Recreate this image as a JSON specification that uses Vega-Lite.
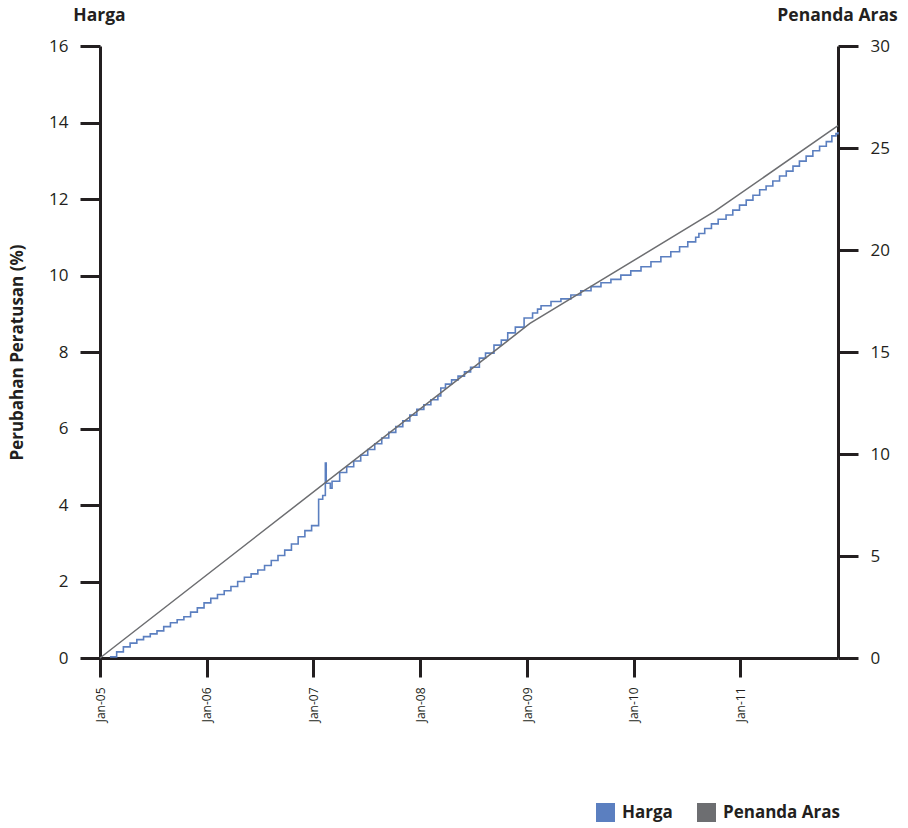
{
  "$schema": "https://vega.github.io/schema/vega-lite/v6.json",
  "width": 738,
  "height": 612,
  "autosize": {"type": "none"},
  "padding": {"left": 100, "top": 46, "right": 70, "bottom": 170},
  "background": "white",
  "config": {
    "view": {"stroke": null},
    "font": "Open Sans",
    "axis": {
      "domainColor": "#231f20",
      "domainWidth": 3,
      "tickColor": "#231f20",
      "tickWidth": 3,
      "tickSize": 20,
      "labelFont": "Open Sans",
      "labelFontSize": 17,
      "labelColor": "#231f20",
      "labelPadding": 12,
      "grid": false,
      "titleFont": "Open Sans",
      "titleFontWeight": "bold",
      "titleFontSize": 17.5,
      "titleColor": "#231f20"
    }
  },
  "datasets": {
    "harga": [
      {"date": "2005-02-04", "value": 0.03, "series": "Harga"},
      {"date": "2005-02-27", "value": 0.16, "series": "Harga"},
      {"date": "2005-03-22", "value": 0.29, "series": "Harga"},
      {"date": "2005-04-14", "value": 0.39, "series": "Harga"},
      {"date": "2005-05-07", "value": 0.48, "series": "Harga"},
      {"date": "2005-05-30", "value": 0.56, "series": "Harga"},
      {"date": "2005-06-22", "value": 0.63, "series": "Harga"},
      {"date": "2005-07-15", "value": 0.71, "series": "Harga"},
      {"date": "2005-08-07", "value": 0.82, "series": "Harga"},
      {"date": "2005-08-30", "value": 0.92, "series": "Harga"},
      {"date": "2005-09-22", "value": 1.0, "series": "Harga"},
      {"date": "2005-10-15", "value": 1.08, "series": "Harga"},
      {"date": "2005-11-07", "value": 1.2, "series": "Harga"},
      {"date": "2005-11-30", "value": 1.31, "series": "Harga"},
      {"date": "2005-12-23", "value": 1.44, "series": "Harga"},
      {"date": "2006-01-15", "value": 1.56, "series": "Harga"},
      {"date": "2006-02-07", "value": 1.66, "series": "Harga"},
      {"date": "2006-03-02", "value": 1.76, "series": "Harga"},
      {"date": "2006-03-25", "value": 1.87, "series": "Harga"},
      {"date": "2006-04-17", "value": 2.0, "series": "Harga"},
      {"date": "2006-05-10", "value": 2.11, "series": "Harga"},
      {"date": "2006-06-02", "value": 2.2, "series": "Harga"},
      {"date": "2006-06-25", "value": 2.3, "series": "Harga"},
      {"date": "2006-07-18", "value": 2.42, "series": "Harga"},
      {"date": "2006-08-10", "value": 2.55, "series": "Harga"},
      {"date": "2006-09-02", "value": 2.68, "series": "Harga"},
      {"date": "2006-09-25", "value": 2.82, "series": "Harga"},
      {"date": "2006-10-18", "value": 2.98, "series": "Harga"},
      {"date": "2006-11-10", "value": 3.17, "series": "Harga"},
      {"date": "2006-12-03", "value": 3.33, "series": "Harga"},
      {"date": "2006-12-26", "value": 3.46, "series": "Harga"},
      {"date": "2007-01-19", "value": 4.15, "series": "Harga"},
      {"date": "2007-02-02", "value": 4.25, "series": "Harga"},
      {"date": "2007-02-11", "value": 5.1, "series": "Harga"},
      {"date": "2007-02-14", "value": 4.57, "series": "Harga"},
      {"date": "2007-02-28", "value": 4.44, "series": "Harga"},
      {"date": "2007-03-06", "value": 4.62, "series": "Harga"},
      {"date": "2007-04-01", "value": 4.85, "series": "Harga"},
      {"date": "2007-04-25", "value": 5.0, "series": "Harga"},
      {"date": "2007-05-19", "value": 5.15, "series": "Harga"},
      {"date": "2007-06-12", "value": 5.3, "series": "Harga"},
      {"date": "2007-07-06", "value": 5.45, "series": "Harga"},
      {"date": "2007-07-30", "value": 5.6, "series": "Harga"},
      {"date": "2007-08-23", "value": 5.75, "series": "Harga"},
      {"date": "2007-09-16", "value": 5.9, "series": "Harga"},
      {"date": "2007-10-10", "value": 6.05, "series": "Harga"},
      {"date": "2007-11-03", "value": 6.2, "series": "Harga"},
      {"date": "2007-11-27", "value": 6.35, "series": "Harga"},
      {"date": "2007-12-21", "value": 6.5, "series": "Harga"},
      {"date": "2008-01-14", "value": 6.62, "series": "Harga"},
      {"date": "2008-02-07", "value": 6.75, "series": "Harga"},
      {"date": "2008-03-02", "value": 6.85, "series": "Harga"},
      {"date": "2008-03-12", "value": 7.06, "series": "Harga"},
      {"date": "2008-03-28", "value": 7.16, "series": "Harga"},
      {"date": "2008-04-18", "value": 7.27, "series": "Harga"},
      {"date": "2008-05-10", "value": 7.37, "series": "Harga"},
      {"date": "2008-06-01", "value": 7.48, "series": "Harga"},
      {"date": "2008-06-22", "value": 7.6, "series": "Harga"},
      {"date": "2008-07-22", "value": 7.84, "series": "Harga"},
      {"date": "2008-08-12", "value": 7.97, "series": "Harga"},
      {"date": "2008-09-10", "value": 8.18, "series": "Harga"},
      {"date": "2008-10-05", "value": 8.31, "series": "Harga"},
      {"date": "2008-10-27", "value": 8.5, "series": "Harga"},
      {"date": "2008-11-22", "value": 8.65, "series": "Harga"},
      {"date": "2008-12-22", "value": 8.89, "series": "Harga"},
      {"date": "2009-01-20", "value": 9.02, "series": "Harga"},
      {"date": "2009-02-06", "value": 9.12, "series": "Harga"},
      {"date": "2009-02-18", "value": 9.21, "series": "Harga"},
      {"date": "2009-03-24", "value": 9.32, "series": "Harga"},
      {"date": "2009-04-27", "value": 9.39, "series": "Harga"},
      {"date": "2009-05-31", "value": 9.49, "series": "Harga"},
      {"date": "2009-07-04", "value": 9.6, "series": "Harga"},
      {"date": "2009-08-08", "value": 9.71, "series": "Harga"},
      {"date": "2009-09-11", "value": 9.81, "series": "Harga"},
      {"date": "2009-10-15", "value": 9.9, "series": "Harga"},
      {"date": "2009-11-18", "value": 10.01, "series": "Harga"},
      {"date": "2009-12-22", "value": 10.12, "series": "Harga"},
      {"date": "2010-01-26", "value": 10.23, "series": "Harga"},
      {"date": "2010-03-01", "value": 10.36, "series": "Harga"},
      {"date": "2010-04-04", "value": 10.49, "series": "Harga"},
      {"date": "2010-05-08", "value": 10.62, "series": "Harga"},
      {"date": "2010-06-07", "value": 10.75, "series": "Harga"},
      {"date": "2010-07-05", "value": 10.88, "series": "Harga"},
      {"date": "2010-08-01", "value": 11.0, "series": "Harga"},
      {"date": "2010-08-12", "value": 11.1, "series": "Harga"},
      {"date": "2010-09-01", "value": 11.23, "series": "Harga"},
      {"date": "2010-09-24", "value": 11.35, "series": "Harga"},
      {"date": "2010-10-17", "value": 11.47, "series": "Harga"},
      {"date": "2010-11-13", "value": 11.58, "series": "Harga"},
      {"date": "2010-12-06", "value": 11.71, "series": "Harga"},
      {"date": "2010-12-29", "value": 11.84, "series": "Harga"},
      {"date": "2011-01-21", "value": 11.97, "series": "Harga"},
      {"date": "2011-02-13", "value": 12.1, "series": "Harga"},
      {"date": "2011-03-08", "value": 12.24, "series": "Harga"},
      {"date": "2011-03-30", "value": 12.34, "series": "Harga"},
      {"date": "2011-04-22", "value": 12.47, "series": "Harga"},
      {"date": "2011-05-15", "value": 12.6, "series": "Harga"},
      {"date": "2011-06-07", "value": 12.73, "series": "Harga"},
      {"date": "2011-06-30", "value": 12.86, "series": "Harga"},
      {"date": "2011-07-22", "value": 12.99, "series": "Harga"},
      {"date": "2011-08-14", "value": 13.12, "series": "Harga"},
      {"date": "2011-09-06", "value": 13.26, "series": "Harga"},
      {"date": "2011-09-29", "value": 13.38, "series": "Harga"},
      {"date": "2011-10-22", "value": 13.5, "series": "Harga"},
      {"date": "2011-11-10", "value": 13.65, "series": "Harga"},
      {"date": "2011-11-24", "value": 13.71, "series": "Harga"},
      {"date": "2011-12-01", "value": 13.75, "series": "Harga"}
    ],
    "penanda": [
      {"date": "2005-01-01", "value": 0, "series": "Penanda Aras"},
      {"date": "2009-01-11", "value": 16.4, "series": "Penanda Aras"},
      {"date": "2010-10-06", "value": 21.9, "series": "Penanda Aras"},
      {"date": "2011-12-01", "value": 26.1, "series": "Penanda Aras"}
    ]
  },
  "encoding": {
    "x": {
      "field": "date",
      "type": "temporal",
      "scale": {
        "type": "utc",
        "domain": [
          {"year": 2005, "month": 1, "date": 1, "utc": true},
          {"year": 2011, "month": 12, "date": 1, "utc": true}
        ]
      },
      "axis": {
        "title": null,
        "format": "%b-%y",
        "values": [
          {"year": 2005, "month": 1, "date": 1, "utc": true},
          {"year": 2006, "month": 1, "date": 1, "utc": true},
          {"year": 2007, "month": 1, "date": 1, "utc": true},
          {"year": 2008, "month": 1, "date": 1, "utc": true},
          {"year": 2009, "month": 1, "date": 1, "utc": true},
          {"year": 2010, "month": 1, "date": 1, "utc": true},
          {"year": 2011, "month": 1, "date": 1, "utc": true}
        ],
        "labelAngle": 270,
        "labelFontSize": 12,
        "labelPadding": 10,
        "tickSize": 19
      }
    }
  },
  "layer": [
    {
      "data": {"name": "harga"},
      "mark": {"type": "line", "interpolate": "step-after", "strokeWidth": 1.6},
      "encoding": {
        "y": {
          "field": "value",
          "type": "quantitative",
          "scale": {"domain": [0, 16], "nice": false},
          "axis": {
            "orient": "left",
            "values": [0, 2, 4, 6, 8, 10, 12, 14, 16],
            "title": "Harga",
            "titleAngle": 0,
            "titleX": -1,
            "titleY": -31,
            "titleAlign": "center",
            "titleBaseline": "middle"
          }
        },
        "color": {
          "field": "series",
          "type": "nominal",
          "scale": {"domain": ["Harga", "Penanda Aras"], "range": ["#5b7fc0", "#6d6e71"]},
          "legend": {
            "orient": "none",
            "legendX": 496,
            "legendY": 757,
            "direction": "horizontal",
            "title": null,
            "symbolType": "square",
            "symbolSize": 361,
            "symbolStrokeWidth": 0,
            "labelFont": "Open Sans",
            "labelFontWeight": "bold",
            "labelFontSize": 17,
            "labelColor": "#231f20",
            "labelOffset": 7,
            "columnPadding": 24,
            "encode": {
              "symbols": {
                "update": {
                  "fill": {"scale": "color", "field": "value"},
                  "stroke": {"value": "transparent"},
                  "opacity": {"value": 1}
                }
              }
            }
          }
        }
      }
    },
    {
      "data": {"name": "penanda"},
      "mark": {"type": "line", "strokeWidth": 1.5},
      "encoding": {
        "y": {
          "field": "value",
          "type": "quantitative",
          "scale": {"domain": [0, 30], "nice": false},
          "axis": {
            "orient": "right",
            "values": [0, 5, 10, 15, 20, 25, 30],
            "title": "Penanda Aras",
            "titleAngle": 0,
            "titleX": -1,
            "titleY": -31,
            "titleAlign": "center",
            "titleBaseline": "middle"
          }
        },
        "color": {"field": "series", "type": "nominal"}
      }
    },
    {
      "data": {"name": "harga"},
      "mark": {"type": "line", "opacity": 0},
      "encoding": {
        "y": {
          "field": "value",
          "type": "quantitative",
          "scale": {"domain": [0, 16], "nice": false},
          "axis": {
            "orient": "left",
            "labels": false,
            "ticks": false,
            "domain": false,
            "title": "Perubahan Peratusan (%)",
            "titleFontSize": 17,
            "titleAngle": 270,
            "titleX": -83,
            "titleY": 306,
            "titleAlign": "center",
            "titleBaseline": "middle"
          }
        }
      }
    }
  ],
  "resolve": {
    "scale": {"y": "independent", "color": "shared"},
    "axis": {"y": "independent"}
  }
}
